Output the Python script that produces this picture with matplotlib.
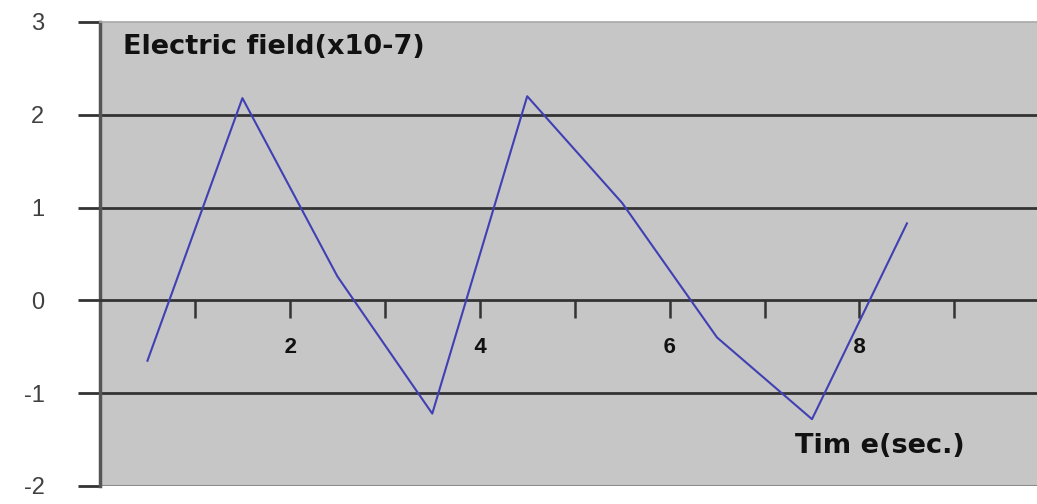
import matplotlib
matplotlib.use("Agg")
import matplotlib.pyplot as plt

# Electric field samples, one per time interval (centred between ticks)
time_sec = [0.5, 1.5, 2.5, 3.5, 4.5, 5.5, 6.5, 7.5, 8.5]
field = [-0.65, 2.18, 0.26, -1.22, 2.20, 1.05, -0.40, -1.28, 0.83]

y_ticks = [-2, -1, 0, 1, 2, 3]
x_ticks = [1, 2, 3, 4, 5, 6, 7, 8, 9]
x_tick_labels = ["", "2", "", "4", "", "6", "", "8", ""]

W, H = 1037, 504
fig = plt.figure(figsize=(W / 100, H / 100), dpi=100)
ax = fig.add_axes([100 / W, 18 / H, 937 / W, 464 / H])
ax.set_facecolor("#c6c6c6")

ax.set_xlim(0, 9.87)
ax.set_ylim(-2, 3)

# horizontal reference lines
for yv in [2, 1, -1]:
    ax.axhline(yv, color="#333333", lw=2.0, zorder=1)

ax.plot(time_sec, field, color="#4040b4", lw=1.5, zorder=3)

# spines: left dark, bottom at zero acting as the time axis
ax.spines["left"].set_color("#555555")
ax.spines["left"].set_linewidth(2.5)
ax.spines["bottom"].set_position(("data", 0))
ax.spines["bottom"].set_color("#333333")
ax.spines["bottom"].set_linewidth(2.0)
ax.spines["top"].set_color("#a8a8a8")
ax.spines["top"].set_linewidth(1.2)
ax.spines["right"].set_visible(False)
ax.axhline(-2, color="#8a8a8a", lw=1.5, zorder=1)

ax.set_yticks(y_ticks)
ax.set_yticklabels([str(v) for v in y_ticks], fontsize=17,
                   color="#404040", family="Liberation Sans")
ax.tick_params(axis="y", direction="out", length=16, width=2.0,
               color="#333333", pad=24)

ax.set_xticks(x_ticks)
ax.set_xticklabels(x_tick_labels, fontsize=16, fontweight="bold",
                   family="Liberation Mono", color="#111111")
ax.tick_params(axis="x", direction="out", length=13, width=1.8,
               color="#333333", pad=13)

fig.text(123 / W, 1 - 47 / H, "Electric field(x10-7)", fontsize=19.5,
         fontweight="heavy", family="DejaVu Sans", color="#111111",
         va="center", ha="left")
fig.text(795 / W, 1 - 446 / H, "Tim e(sec.)", fontsize=19.5,
         fontweight="heavy", family="DejaVu Sans", color="#111111",
         va="center", ha="left")

fig.savefig("out.png", dpi=100)
